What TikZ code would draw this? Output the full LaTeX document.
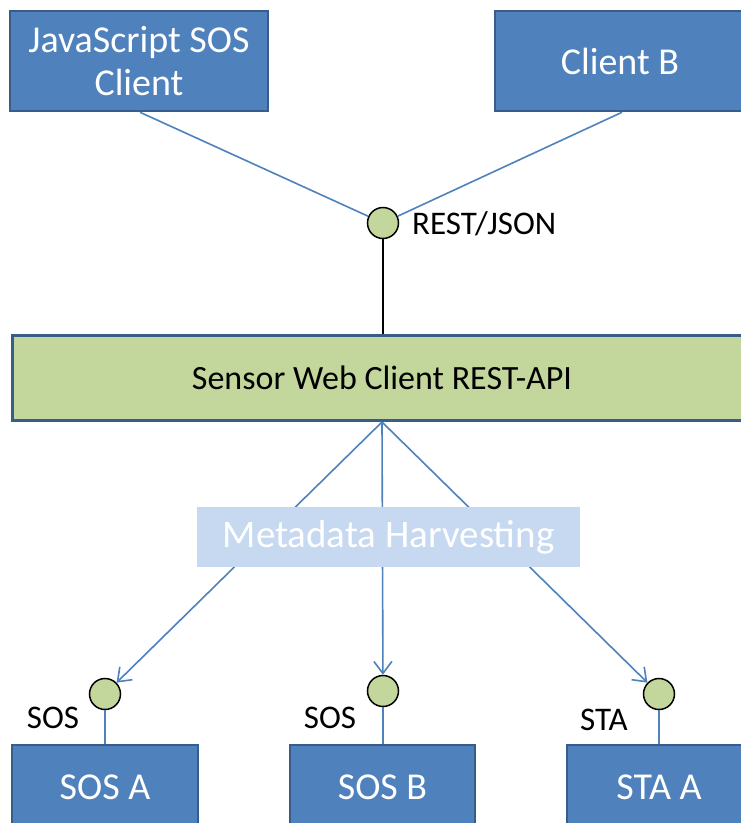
\documentclass[tikz,border=0pt]{standalone}
\usepackage{fontspec}
\setmainfont{Carlito}
\usetikzlibrary{arrows.meta}
\definecolor{boxblue}{HTML}{4F81BD}
\definecolor{edgeblue}{HTML}{385D8A}
\definecolor{apigreen}{HTML}{C3D69B}
\definecolor{metablue}{HTML}{C6D9F1}
\newcommand{\fs}[1]{\fontsize{#1}{1.15\dimexpr#1pt\relax}\selectfont}
\begin{document}
\begin{tikzpicture}[x=1pt,y=-1pt,
  srv/.style={draw=edgeblue, fill=boxblue, line width=2.5pt, text=white,
    font=\fs{38}, inner sep=0pt, align=center},
  apibox/.style={draw=edgeblue, fill=apigreen, line width=3pt, text=black,
    font=\fs{34}, inner sep=0pt},
  metabox/.style={fill=metablue, text=white, font=\fs{39}, inner sep=0pt},
  port/.style={circle, draw=black, fill=apigreen, line width=1.5pt,
    minimum size=31pt, inner sep=0pt},
  lbl/.style={font=\fs{33}, inner sep=0pt, text=black},
  link/.style={draw=boxblue, line width=1.6pt},
  harvest/.style={draw=boxblue, line width=1.6pt,
    -{Straight Barb[length=12pt,width=18pt,line width=1.6pt]}}]
\clip (0,0) rectangle (741,823);
\fill[white] (0,0) rectangle (741,823);

% clients
\node[srv, minimum width=258pt, minimum height=100pt] (js) at (139,61) {JavaScript SOS\\Client};
\node[srv, minimum width=250pt, minimum height=100pt] (cb) at (620,61) {Client B};

% REST/JSON interface
\node[port] (rest) at (383,223) {};
\node[lbl, anchor=west] (restlbl) at (412,224) {REST/JSON};

% API
\node[apibox, minimum width=740pt, minimum height=85pt] (api) at (382,378) {Sensor Web Client REST-API};

% service interfaces
\node[port] (p1) at (105,694) {};
\node[port] (p2) at (383,691) {};
\node[port] (p3) at (659,694) {};

% services
\node[srv, minimum width=186pt, minimum height=85pt] (sa) at (105,787.5) {SOS A};
\node[srv, minimum width=185pt, minimum height=85pt] (sb) at (382.5,787.5) {SOS B};
\node[srv, minimum width=184pt, minimum height=85pt] (ta) at (659,787.5) {STA A};

% interface labels
\node[lbl] (l1) at (53,718) {SOS};
\node[lbl] (l2) at (330,718) {SOS};
\node[lbl] (l3) at (604,720) {STA};

% connectors
\draw[link] ([xshift=1pt]js.south) -- (rest);
\draw[link] ([xshift=2pt]cb.south) -- (rest);
\draw[black, line width=1.5pt] (rest) -- (rest |- api.north);
\draw[harvest] (api.south) -- (p1);
\draw[harvest] (api.south) -- (p2);
\draw[harvest] (api.south) -- (p3);
\draw[link] (p1) -- (p1 |- sa.north);
\draw[link] (p2) -- (p2 |- sb.north);
\draw[link] (p3) -- (p3 |- ta.north);

% harvesting band over the arrows
\node[metabox, minimum width=383pt, minimum height=60pt] (meta) at (388.5,537) {Metadata Harvesting};
\end{tikzpicture}
\end{document}
